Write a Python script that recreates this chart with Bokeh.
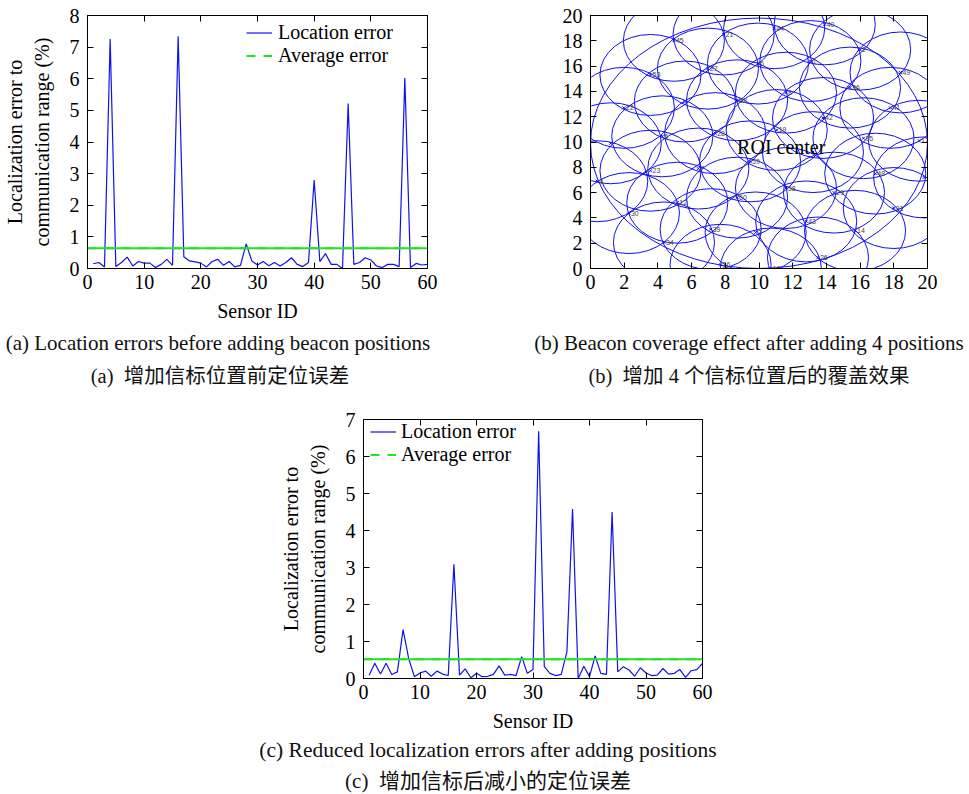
from bokeh.plotting import figure
from bokeh.models import (Range1d, LinearAxis, Legend, LegendItem, Div, Spacer,
                          CustomJSTickFormatter, FixedTicker)
from bokeh.layouts import column, row
from bokeh.embed import file_html
from bokeh.resources import INLINE
from bokeh.core.properties import value

# ---------------- data ----------------
sensor_ids = list(range(1, 61))

error_before = [0.15, 0.19, 0.05, 7.26, 0.06, 0.19, 0.36, 0.08, 0.22, 0.17,
                0.17, 0.03, 0.13, 0.29, 0.10, 7.34, 0.37, 0.24, 0.21, 0.17,
                0.05, 0.22, 0.29, 0.10, 0.22, 0.05, 0.10, 0.78, 0.24, 0.11,
                0.22, 0.09, 0.19, 0.08, 0.19, 0.34, 0.13, 0.06, 0.19, 2.80,
                0.22, 0.47, 0.13, 0.13, 0.00, 5.22, 0.13, 0.19, 0.34, 0.27,
                0.08, 0.03, 0.13, 0.13, 0.06, 6.02, 0.03, 0.16, 0.11, 0.13]
avg_before = 0.64

error_after = [0.09, 0.41, 0.12, 0.41, 0.11, 0.18, 1.32, 0.54, 0.05, 0.15,
               0.20, 0.06, 0.20, 0.12, 0.08, 3.09, 0.09, 0.26, 0.02, 0.14,
               0.05, 0.06, 0.11, 0.34, 0.09, 0.11, 0.08, 0.59, 0.14, 0.24,
               6.68, 0.32, 0.14, 0.08, 0.11, 0.72, 4.58, 0.00, 0.33, 0.05,
               0.61, 0.14, 0.11, 4.50, 0.18, 0.32, 0.23, 0.06, 0.29, 0.15,
               0.08, 0.09, 0.27, 0.12, 0.14, 0.24, 0.03, 0.21, 0.24, 0.41]
avg_after = 0.52

node_labels = ["40", "44", "21", "45", "2", "6", "1", "27", "49", "53",
               "36", "8", "52", "22", "41", "42", "19", "28", "5", "35",
               "17", "59", "23", "7", "48", "4", "47", "58", "29", "60",
               "12", "30", "31", "43", "39", "3", "14", "34", "26", "16",
               "18", "", "", ""]
node_x = [13.9, 10.9, 7.9, 4.95, 16.0, 9.94, 13.05, 6.97, 18.4, 3.56,
          15.4, 11.6, 8.7, 1.98, 17.8, 13.8, 11.05, 7.4, 4.26, 16.2,
          19.5, 9.47, 3.56, 6.4, 16.9, 0.4, 19.8, 11.6, 14.45, 8.7,
          5.15, 2.28, 18.0, 12.8, 7.13, 9.8, 15.7, 4.36, 13.5, 7.72,
          10.7, 5.6, 1.2, 13.2]
node_y = [19.3, 19.0, 18.5, 18.0, 17.3, 16.2, 16.4, 15.8, 15.5, 15.3,
          14.3, 13.9, 13.3, 12.7, 12.7, 11.9, 10.95, 10.7, 10.45, 10.3,
          10.1, 8.47, 7.73, 7.9, 7.5, 6.9, 7.2, 6.36, 6.0, 5.6,
          5.2, 4.38, 4.78, 3.72, 3.11, 2.85, 2.98, 2.06, 0.87, 0.29,
          0.0, 13.2, 9.9, 9.2]

roi_x = [10.0]
roi_y = [9.9]
roi_text = ["ROI center"]

x_ticks_err = [0, 10, 20, 30, 40, 50, 60]
y_ticks_a = [0, 1, 2, 3, 4, 5, 6, 7, 8]
y_ticks_c = [0, 1, 2, 3, 4, 5, 6, 7]
ticks_b = [0, 2, 4, 6, 8, 10, 12, 14, 16, 18, 20]

# ---------------- style ----------------
SERIF = "Liberation Serif"
BLUE = "#1010f0"
GREEN = "#22e322"
FS = "20px"


def box_axes(p, xticks, yticks):
    bottom, left = p.below[0], p.left[0]
    for ax in (bottom, left):
        ax.major_tick_in = 6
        ax.major_tick_out = 0
        ax.minor_tick_line_color = None
        ax.axis_line_color = "black"
        ax.major_tick_line_color = "black"
        ax.major_label_text_font = SERIF
        ax.major_label_text_font_size = FS
        ax.major_label_text_color = "black"
        ax.axis_label_text_font = SERIF
        ax.axis_label_text_font_size = FS
        ax.axis_label_text_font_style = "normal"
        ax.axis_label_text_color = "black"
    bottom.ticker = FixedTicker(ticks=xticks)
    left.ticker = FixedTicker(ticks=yticks)
    bottom.major_label_standoff = 6
    left.major_label_standoff = 8
    for side, ticks in (("right", yticks), ("above", xticks)):
        ax = LinearAxis(ticker=FixedTicker(ticks=ticks),
                        formatter=CustomJSTickFormatter(code="return ''"))
        ax.major_tick_in = 6
        ax.major_tick_out = 0
        ax.minor_tick_line_color = None
        ax.major_label_text_font_size = "0px"
        ax.major_label_standoff = 0
        ax.axis_line_color = "black"
        p.add_layout(ax, side)
    p.xgrid.visible = False
    p.ygrid.visible = False
    p.outline_line_color = "black"
    p.background_fill_color = "white"
    p.border_fill_color = None
    return bottom, left


def error_figure(width, height, left, right, top, bottom, errs, avg, ymax, yticks,
                 legend_loc, standoff):
    p = figure(width=width, height=height, output_backend="svg", toolbar_location=None,
               title=None,
               x_range=Range1d(0, 60), y_range=Range1d(0, ymax),
               min_border_left=left, min_border_right=right,
               min_border_top=top, min_border_bottom=bottom)
    bax, lax = box_axes(p, x_ticks_err, yticks)
    bax.axis_label = "Sensor ID"
    bax.axis_label_standoff = 8
    lax.axis_label = "Localization error to\ncommunication range (%)"
    lax.axis_label_standoff = 14
    blue = p.line(sensor_ids, errs, line_color=BLUE, line_width=1.2)
    p.line([0, 60], [avg, avg], line_color=GREEN, line_width=2)
    green = p.line([0, 60], [avg, avg], line_color=GREEN, line_width=2.2, line_dash="9 8")
    leg = Legend(items=[LegendItem(label="Location error", renderers=[blue]),
                        LegendItem(label="Average error", renderers=[green])],
                 location=legend_loc, border_line_color=None, background_fill_alpha=0,
                 padding=0, margin=0, spacing=0, label_standoff=standoff,
                 glyph_width=26, glyph_height=21, label_height=21,
                 label_text_font=SERIF, label_text_font_size=FS,
                 label_text_color="black")
    p.add_layout(leg)
    return p


fig_a = error_figure(470, 325, 87, 43, 12, 55, error_before, avg_before, 8, y_ticks_a,
                     (159, 201), 6)

fig_b = figure(width=499, height=325, output_backend="svg", toolbar_location=None,
               title=None,
               x_range=Range1d(0, 20), y_range=Range1d(0, 20),
               min_border_left=120, min_border_right=42,
               min_border_top=15, min_border_bottom=57)
box_axes(fig_b, ticks_b, ticks_b)
fig_b.ellipse(x=node_x, y=node_y, width=6.0, height=6.4, fill_color=None,
              line_color=BLUE, line_width=1)
fig_b.ellipse(x=roi_x, y=roi_y, width=20.0, height=19.8, fill_color=None,
              line_color=BLUE, line_width=1)
fig_b.scatter(x=node_x, y=node_y, marker="x", size=4, line_color=BLUE, line_width=1)
fig_b.text(x=node_x, y=node_y, text=node_labels, x_offset=2,
           text_font=value("Liberation Sans"), text_font_size="7px",
           text_color="#444444", text_align="left", text_baseline="middle")
fig_b.text(x=[8.7], y=[9.6], text=roi_text, text_font=value(SERIF),
           text_font_size=FS, text_color="black", text_align="left",
           text_baseline="middle")

fig_c = error_figure(530, 340, 133, 58, 24, 57, error_after, avg_after, 7, y_ticks_c,
                     (7, 212), 5)

cap_style = "position:absolute;white-space:nowrap;text-align:center;color:#111;"
EN = "font-family:'Liberation Serif',serif;"
ZH = "font-family:'Liberation Serif','Noto Sans CJK SC',serif;"

cap_ab = Div(width=969, height=70, margin=0, text=(
    '<div style="position:relative;width:969px;height:70px;">'
    f'<div style="{cap_style}{EN}left:0px;width:436px;top:6px;font-size:21px;line-height:24px;">'
    '(a) Location errors before adding beacon positions</div>'
    f'<div style="{cap_style}{ZH}left:0px;width:440px;top:39px;font-size:20.5px;line-height:24px;">'
    '(a)&nbsp; 增加信标位置前定位误差</div>'
    f'<div style="{cap_style}{EN}left:529px;width:440px;top:6px;font-size:21px;line-height:24px;">'
    '(b) Beacon coverage effect after adding 4 positions</div>'
    f'<div style="{cap_style}{ZH}left:529px;width:440px;top:39px;font-size:20.5px;line-height:24px;">'
    '(b)&nbsp; 增加 4 个信标位置后的覆盖效果</div>'
    '</div>'))

cap_c = Div(width=969, height=59, margin=0, text=(
    '<div style="position:relative;width:969px;height:59px;">'
    f'<div style="{cap_style}{EN}left:88px;width:800px;top:3px;font-size:21.5px;line-height:24px;">'
    '(c) Reduced localization errors after adding positions</div>'
    f'<div style="{cap_style}{ZH}left:88px;width:800px;top:34px;font-size:21px;line-height:24px;">'
    '(c)&nbsp; 增加信标后减小的定位误差</div>'
    '</div>'))

layout = column(row(fig_a, fig_b), cap_ab, row(Spacer(width=230, height=340), fig_c), cap_c)

open("out.html", "w").write(file_html(layout, INLINE))
